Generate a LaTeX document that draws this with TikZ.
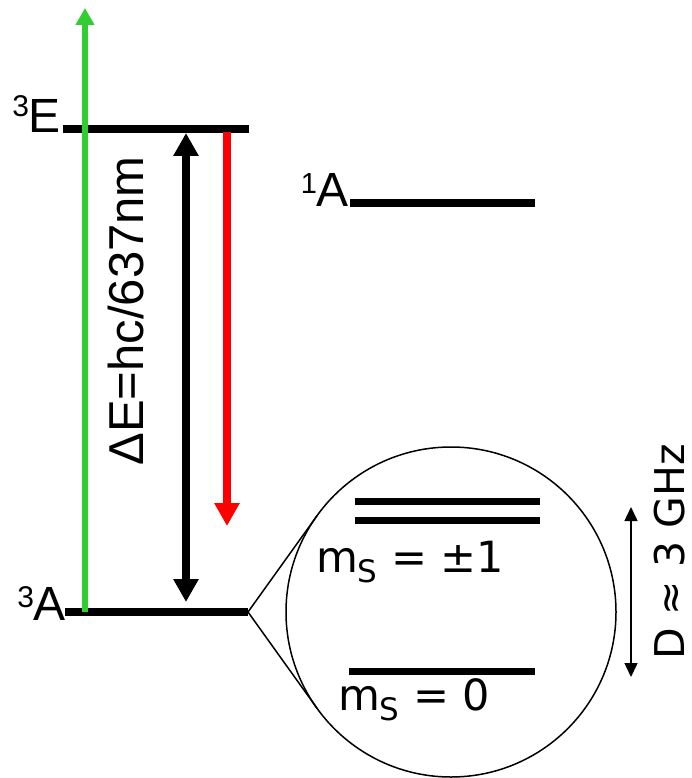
\documentclass[tikz,border=0pt]{standalone}
\usepackage{fontspec}
\setmainfont{Liberation Sans}
\newfontfamily\dvs{DejaVu Sans}
\usetikzlibrary{arrows.meta,calc}
\definecolor{lgreen}{RGB}{50,205,50}
\definecolor{pred}{RGB}{255,0,0}
\begin{document}
\begin{tikzpicture}[x=1pt,y=-1pt,
  levelline/.style={line width=7.5pt},
  lab/.style={font=\fontsize{48}{48}\selectfont, inner sep=0pt, outer sep=0pt},
  sublab/.style={font=\dvs\fontsize{43}{43}\selectfont, inner sep=0pt, outer sep=0pt},
  bigarrow/.style={line width=8pt, -{Triangle[length=23pt,width=24pt]}},
  thinline/.style={line width=1.5pt}
]
\useasboundingbox (0,0) rectangle (692,778);

% level end points
\coordinate (E3a) at (63,129);
\coordinate (E3b) at (249,129);
\coordinate (A1a) at (350,203);
\coordinate (A1b) at (535,203);
\coordinate (A3a) at (65,612);
\coordinate (A3b) at (248,612);
\coordinate (P1a) at (355,501);
\coordinate (P1b) at (540,501);
\coordinate (P2a) at (355,520);
\coordinate (P2b) at (540,520);
\coordinate (Z0a) at (349,671);
\coordinate (Z0b) at (535,671);

% magnifier circle
\node[draw, thinline, circle, minimum size=330pt, inner sep=0pt, outer sep=0pt] (mag) at (451,612) {};
\draw[thinline, line join=miter] (tangent cs:node=mag,point={(A3b)},solution=1) -- (A3b) -- (tangent cs:node=mag,point={(A3b)},solution=2);

% levels
\draw[levelline] (E3a) -- (E3b);
\draw[levelline] (A1a) -- (A1b);
\draw[levelline] (A3a) -- (A3b);
\draw[levelline, line width=7pt] (P1a) -- (P1b);
\draw[levelline, line width=7pt] (P2a) -- (P2b);
\draw[levelline, line width=7pt] (Z0a) -- (Z0b);

% arrows
\coordinate (gS) at (85,612);
\coordinate (gT) at (85,8);
\draw[lgreen, line width=5.5pt, -{Triangle[length=17pt,width=18pt]}] (gS) -- (gT);
\coordinate (bT) at (186,133);
\coordinate (bB) at (186,602);
\draw[line width=8pt, {Triangle[length=23pt,width=24pt]}-{Triangle[length=23pt,width=24pt]}] (bT) -- (bB);
\coordinate (rS) at (227,132);
\coordinate (rT) at (227,526);
\draw[pred, bigarrow] (rS) -- (rT);
\coordinate (dT) at (631,507);
\coordinate (dB) at (631,677);
\draw[thinline, {Triangle[length=14pt,width=13pt]}-{Triangle[length=14pt,width=13pt]}] (dT) -- (dB);

% labels
\node[lab, anchor=base east] (E3lab) at (61,133) {\raisebox{16pt}{\fontsize{30}{30}\selectfont 3}E};
\node[lab, anchor=base east] (A3lab) at (66,620) {\raisebox{13pt}{\fontsize{30}{30}\selectfont 3}A};
\node[lab, anchor=base east] (A1lab) at (349,206) {\raisebox{13pt}{\fontsize{29}{29}\selectfont 1}A};
\node[lab, font=\fontsize{49}{49}\selectfont, rotate=90, anchor=base] (dE) at (143,311) {ΔE=hc/637nm};
\node[sublab, anchor=base west] (pm) at (316,572) {m\raisebox{-10pt}{\fontsize{31}{31}\selectfont S} = ±1};
\node[sublab, anchor=base west] (zero) at (338,710) {m\raisebox{-10pt}{\fontsize{31}{31}\selectfont S} = 0};
\node[sublab, font=\dvs\fontsize{41}{41}\selectfont, rotate=90, anchor=base] (Dlab) at (684,552) {D ≈ 3 GHz};
\end{tikzpicture}
\end{document}
